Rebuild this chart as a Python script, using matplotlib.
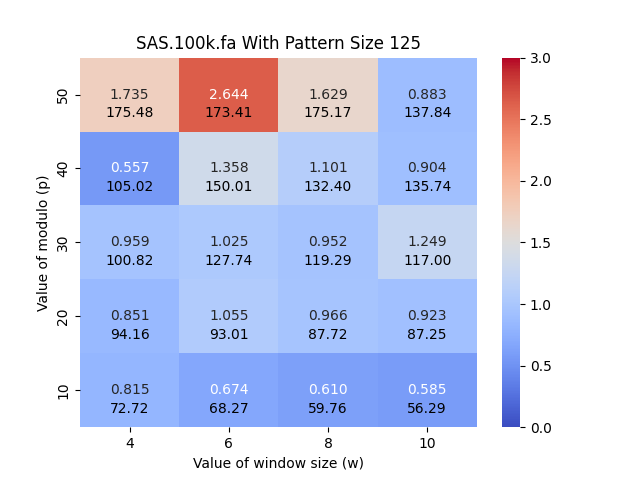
import matplotlib
matplotlib.use("Agg")
import matplotlib.pyplot as plt
import numpy as np
import seaborn as sns

window_sizes = [4, 6, 8, 10]
modulo_values = [50, 40, 30, 20, 10]

# ratio values (colour + first annotation line), rows top to bottom
ratios = [
    [1.735, 2.644, 1.629, 0.883],
    [0.557, 1.358, 1.101, 0.904],
    [0.959, 1.025, 0.952, 1.249],
    [0.851, 1.055, 0.966, 0.923],
    [0.815, 0.674, 0.610, 0.585],
]

# second annotation line
times = [
    [175.48, 173.41, 175.17, 137.84],
    [105.02, 150.01, 132.40, 135.74],
    [100.82, 127.74, 119.29, 117.00],
    [94.16, 93.01, 87.72, 87.25],
    [72.72, 68.27, 59.76, 56.29],
]

fig, ax = plt.subplots(figsize=(6.4, 4.8), dpi=100)
sns.heatmap(np.array(ratios), annot=True, fmt=".3f", cmap="coolwarm",
            vmin=0, vmax=3, xticklabels=window_sizes,
            yticklabels=modulo_values, ax=ax)

for i in range(len(modulo_values)):
    for j in range(len(window_sizes)):
        ax.text(j + 0.5, i + 0.75, f"{times[i][j]:.2f}",
                ha="center", va="center", color="black", fontsize=10)

ax.set_title("SAS.100k.fa With Pattern Size 125")
ax.set_xlabel("Value of window size (w)")
ax.set_ylabel("Value of modulo (p)")

plt.savefig("out.png")
